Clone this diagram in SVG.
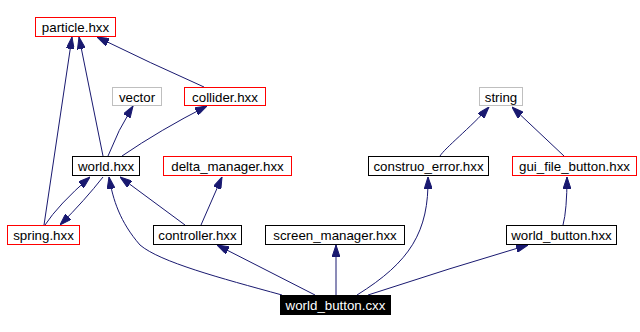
<svg xmlns="http://www.w3.org/2000/svg" width="640" height="332" viewBox="0 0 640 332">
<defs>
<style>
.n rect{fill:#fff;stroke:#000;stroke-width:1}
.n.r rect{stroke:#ff0000}
.n.g rect{stroke:#bfbfbf}
.n text{font-family:"Liberation Sans",Arial,sans-serif;font-size:13.3px;fill:#000;text-anchor:middle}
.n.k rect{fill:#000;stroke:#000}
.n.k text{fill:#fff}
#edges path{fill:none;stroke:#191970;stroke-width:1;marker-end:url(#ah)}
</style>
<marker id="ah" viewBox="0 0 12 8" refX="12" refY="4" markerWidth="12" markerHeight="8" markerUnits="userSpaceOnUse" orient="auto">
<path d="M0,0 L12,4 L0,8 z" fill="#191970" stroke="#191970" stroke-width="1"/>
</marker>
</defs>
<rect width="640" height="332" fill="#fff"/>
<g id="edges">
<path d="M204,87 Q150,63 97,37"/>
<path d="M44,225 L72,37"/>
<path d="M103,156 L79,37"/>
<path d="M108,156 Q118,130 133,106"/>
<path d="M122,156 Q160,130 207,106"/>
<path d="M45,225 Q58,205 90,177"/>
<path d="M103,177 Q85,200 60,225"/>
<path d="M185,225 L120,177"/>
<path d="M201,225 L222,177"/>
<path d="M282,295 C220,278 160,262 140,245 C120,222 113,200 109,177"/>
<path d="M315,295 L217,245"/>
<path d="M336,295 L336,245"/>
<path d="M357,295 C410,262 429,232 428,177"/>
<path d="M368,295 Q450,268 528,245"/>
<path d="M563,225 Q567,210 567,177"/>
<path d="M440,156 C445,148 470,128 489,107"/>
<path d="M564,156 L512,107"/>
</g>
<g id="particle" class="n r"><rect x="35.5" y="17.5" width="80" height="19"/><text x="75.5" y="32">particle.hxx</text></g>
<g id="vector" class="n g"><rect x="112.5" y="87.5" width="49" height="18"/><text x="137" y="101.5">vector</text></g>
<g id="collider" class="n r"><rect x="184.5" y="87.5" width="81" height="18"/><text x="225" y="101.5">collider.hxx</text></g>
<g id="string" class="n g"><rect x="479.5" y="87.5" width="43" height="18"/><text x="501" y="101.5">string</text></g>
<g id="world" class="n"><rect x="72.5" y="156.5" width="67" height="19"/><text x="106" y="171">world.hxx</text></g>
<g id="delta_manager" class="n r"><rect x="163.5" y="156.5" width="128" height="19"/><text x="227.5" y="171">delta_manager.hxx</text></g>
<g id="construo_error" class="n"><rect x="368.5" y="156.5" width="120" height="19"/><text x="428.5" y="171">construo_error.hxx</text></g>
<g id="gui_file_button" class="n r"><rect x="512.5" y="156.5" width="124" height="19"/><text x="574.5" y="171">gui_file_button.hxx</text></g>
<g id="spring" class="n r"><rect x="7.5" y="225.5" width="72" height="19"/><text x="43.5" y="240">spring.hxx</text></g>
<g id="controller" class="n"><rect x="153.5" y="225.5" width="88" height="19"/><text x="197.5" y="240">controller.hxx</text></g>
<g id="screen_manager" class="n"><rect x="265.5" y="225.5" width="139" height="19"/><text x="335" y="240">screen_manager.hxx</text></g>
<g id="world_button_hxx" class="n"><rect x="506.5" y="225.5" width="110" height="19"/><text x="561.5" y="240">world_button.hxx</text></g>
<g id="world_button_cxx" class="n k"><rect x="280.5" y="295.5" width="110" height="19"/><text x="335.5" y="310">world_button.cxx</text></g>
</svg>
